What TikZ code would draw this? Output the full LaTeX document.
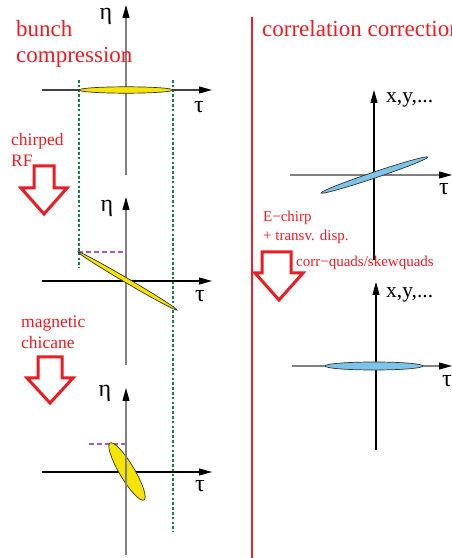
\documentclass[tikz,border=0pt]{standalone}
\usepackage{fontspec}
\setmainfont{Liberation Serif}
\usetikzlibrary{arrows.meta}
\definecolor{BCRed}{HTML}{EC1C24}
\definecolor{BCGreen}{HTML}{0B8445}
\definecolor{BCMagenta}{HTML}{B455B4}
\definecolor{BCYellow}{HTML}{F5E400}
\definecolor{BCBlue}{HTML}{7EC4EA}
\definecolor{BCAxis}{HTML}{808080}
\tikzset{
  axis/.style={line width=1.1pt,-{Triangle[length=13pt,width=7pt,color=black]}},
  bunchY/.style={draw=black!80,fill=BCYellow,line width=.7pt},
  bunchB/.style={draw=black!80,fill=BCBlue,line width=.7pt},
  greenguide/.style={BCGreen,line width=2.4pt,dash pattern=on 2.6pt off 2.2pt},
  magguide/.style={BCMagenta,line width=1.6pt,dash pattern=on 5pt off 3pt},
  bigarrow/.style={draw=BCRed,fill=white,line width=3pt,line join=miter},
  axlabel/.style={inner sep=0pt,font=\fontsize{24}{28}\selectfont},
  xylabel/.style={inner sep=0pt,anchor=west,font=\fontsize{21.5}{26}\selectfont},
  redtitle/.style={text=BCRed,anchor=base west,inner sep=0pt,font=\fontsize{23}{27}\selectfont},
  redlabel/.style={text=BCRed,anchor=base west,inner sep=0pt,font=\fontsize{17.5}{21}\selectfont},
  redsmall/.style={text=BCRed,anchor=base west,inner sep=0pt,font=\fontsize{15}{18}\selectfont}
}

\begin{document}
\begin{tikzpicture}[x=1pt,y=1pt]
\path[use as bounding box] (0,0) rectangle (452,558);
\fill[white] (0,0) rectangle (452,558);
% green guides
\coordinate (gLt) at (79,478);
\coordinate (gLb) at (79,290);
\coordinate (gRt) at (173,478);
\coordinate (gRb) at (173,26);
\draw[greenguide] (gLt) -- (gLb);
\draw[greenguide] (gRt) -- (gRb);
% plot 1: long bunch
\coordinate (p1b) at (126,383);
\coordinate (p1t) at (126,553);
\coordinate (p1l) at (42,468);
\coordinate (p1r) at (212,468);
\coordinate (c1) at (126,468);
\draw[axis,BCAxis] (p1b) -- (p1t);
\draw[axis,black!75] (p1l) -- (p1r);
\draw[bunchY] (c1) ellipse [x radius=47, y radius=3.2];
\node[axlabel] (eta1) at (106,542) {η};
\node[axlabel] (tau1) at (199,451) {τ};
% plot 2: chirped bunch
\coordinate (p2b) at (126,193);
\coordinate (p2t) at (126,361);
\coordinate (p2l) at (42,277);
\coordinate (p2r) at (212,277);
\coordinate (c2) at (127.5,277);
\coordinate (m2l) at (78,306);
\coordinate (m2r) at (126,306);
\draw[magguide] (m2l) -- (m2r);
\draw[axis,BCAxis] (p2b) -- (p2t);
\draw[axis,black] (p2l) -- (p2r);
\draw[bunchY,rotate around={-30.4:(c2)}] (c2) ellipse [x radius=57.4, y radius=2.3];
\node[axlabel] (eta2) at (107,350) {η};
\node[axlabel] (tau2) at (200,262) {τ};
% plot 3: compressed bunch
\coordinate (p3b) at (126,3);
\coordinate (p3t) at (126,170);
\coordinate (p3l) at (42,86);
\coordinate (p3r) at (212,86);
\coordinate (c3) at (127,86.5);
\coordinate (m3l) at (89,114);
\coordinate (m3r) at (126,114);
\draw[magguide] (m3l) -- (m3r);
\draw[axis,black] (p3l) -- (p3r);
\draw[bunchY,rotate around={-59.2:(c3)}] (c3) ellipse [x radius=33.2, y radius=7.5];
\draw[axis,BCAxis] (p3b) -- (p3t);
\node[axlabel] (eta3) at (105,165) {η};
\node[axlabel] (tau3) at (200,72) {τ};
% left labels and arrows
\node[redtitle] (bunch) at (16,521) {bunch};
\node[redtitle] (compr) at (16,495) {compression};
\node[redlabel] (chirp) at (11,412) {chirped};
\node[redlabel] (rf) at (11,391) {RF};
\draw[bigarrow] (34,392) -- (54,392) -- (54,370) -- (67,370) -- (44,344) -- (21,370) -- (34,370) -- cycle;
\node[redlabel] (magn) at (21,230) {magnetic};
\node[redlabel] (chic) at (21,209) {chicane};
\draw[bigarrow] (38,201) -- (62,201) -- (62,180) -- (73,180) -- (50,155) -- (27,180) -- (38,180) -- cycle;
% divider
\coordinate (divt) at (251.5,541);
\coordinate (divb) at (251.5,0);
\draw[BCRed,line width=2pt] (divt) -- (divb);
\node[redtitle] (corr) at (262,521) {correlation correction};
% plot R1: correlated bunch
\coordinate (q1b) at (374,298);
\coordinate (q1t) at (374,468);
\coordinate (q1l) at (290,383);
\coordinate (q1r) at (452,383);
\coordinate (d1) at (374.5,383);
\draw[axis,black] (q1b) -- (q1t);
\draw[axis,BCAxis] (q1l) -- (q1r);
\draw[bunchB,rotate around={18.6:(d1)}] (d1) ellipse [x radius=56.4, y radius=3];
\node[xylabel] (xy1) at (386,458) {x,y,...};
\node[axlabel] (tau4) at (444,369) {τ};
% right labels and arrow
\node[redsmall] (echirp) at (263,336) {E−chirp};
\node[redsmall] (disp) at (263,317) {+ transv. disp.};
\node[redsmall] (skew) at (296,291) {corr−quads/skewquads};
\draw[bigarrow] (262,306) -- (291,306) -- (291,285) -- (303,285) -- (279,258) -- (255,285) -- (262,285) -- cycle;
% plot R2: corrected bunch
\coordinate (q2b) at (376,108);
\coordinate (q2t) at (376,276);
\coordinate (q2l) at (292,192);
\coordinate (q2r) at (452,192);
\coordinate (d2) at (374,192);
\draw[axis,black] (q2b) -- (q2t);
\draw[axis,BCAxis] (q2l) -- (q2r);
\draw[bunchB] (d2) ellipse [x radius=49, y radius=4];
\node[xylabel] (xy2) at (386,263) {x,y,...};
\node[axlabel] (tau5) at (447,177) {τ};
\end{tikzpicture}
\end{document}
